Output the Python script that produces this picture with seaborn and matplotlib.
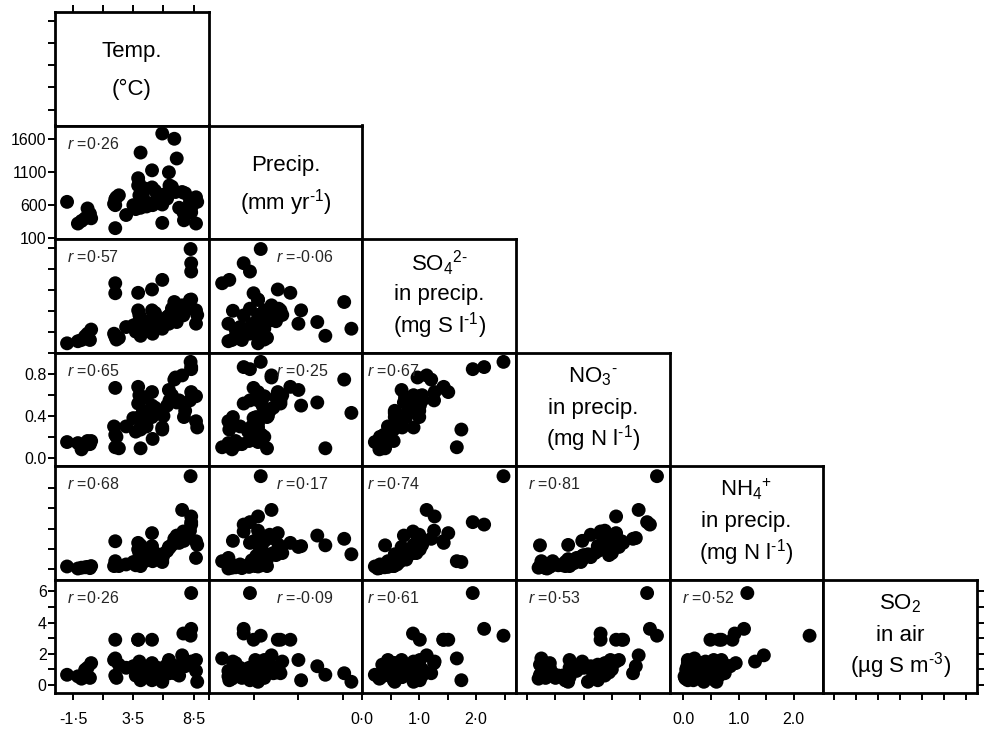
import matplotlib
matplotlib.use('Agg')
import matplotlib.pyplot as plt
import seaborn as sns
import pandas as pd

# one value per site
temp = [-2.0, -1.1, -0.8, -0.5, -0.3, 0.0, -0.1, 2.0, 2.0, 1.9, 2.1, 2.3, 2.9, 3.5,
        3.9, 3.9, 4.0, 4.1, 4.1, 4.3, 4.0, 4.6, 5.05, 5.05, 5.05, 5.1, 5.5, 5.9,
        5.9, 5.9, 6.45, 6.5, 6.9, 7.1, 7.0, 6.3, 7.55, 7.65, 7.7, 8.25, 8.3, 8.3,
        8.3, 8.7, 8.7, 8.8, 8.2, 4.2, 3.7, 5.3, 6.0, 6.7, 7.3, 2.0, 4.5, 7.8]
precip = [650, 320, 360, 400, 550, 400, 470, 250, 600, 620, 720, 750, 450, 600,
          1010, 900, 750, 560, 1400, 720, 920, 580, 870, 1130, 630, 600, 760, 1690,
          330, 610, 1100, 900, 1610, 1310, 800, 700, 800, 490, 370, 680, 490, 560,
          650, 720, 320, 650, 650, 650, 540, 820, 760, 880, 560, 690, 850, 780]
so4 = [0.22, 0.27, 0.30, 0.39, 0.45, 0.55, 0.30, 1.66, 1.42, 0.45, 0.31, 0.35, 0.61, 0.65,
       1.43, 1.01, 0.77, 0.55, 0.40, 0.57, 0.90, 0.68, 1.51, 1.01, 0.57, 0.45, 0.80, 0.57,
       1.74, 0.70, 0.69, 0.90, 1.21, 0.73, 0.97, 0.85, 1.13, 0.89, 1.00, 2.48, 2.14, 1.94,
       1.27, 1.01, 0.69, 0.90, 1.26, 0.60, 0.50, 0.95, 0.75, 1.05, 1.05, 0.38, 0.75, 1.00]
no3 = [0.15, 0.14, 0.08, 0.12, 0.16, 0.16, 0.13, 0.10, 0.67, 0.30, 0.20, 0.09, 0.30, 0.38,
       0.68, 0.52, 0.39, 0.27, 0.09, 0.45, 0.60, 0.30, 0.63, 0.50, 0.39, 0.18, 0.45, 0.43,
       0.27, 0.29, 0.65, 0.55, 0.75, 0.53, 0.77, 0.50, 0.79, 0.52, 0.39, 0.92, 0.87, 0.85,
       0.63, 0.59, 0.35, 0.29, 0.55, 0.33, 0.25, 0.48, 0.40, 0.60, 0.55, 0.22, 0.58, 0.45]
nh4 = [0.07, 0.02, 0.04, 0.05, 0.06, 0.08, 0.03, 0.20, 0.69, 0.08, 0.12, 0.08, 0.12, 0.18,
       0.65, 0.49, 0.24, 0.08, 0.59, 0.30, 0.40, 0.22, 0.89, 0.57, 0.33, 0.20, 0.33, 0.37,
       0.18, 0.25, 0.55, 0.53, 0.75, 0.83, 0.77, 0.45, 1.46, 0.93, 0.70, 2.29, 1.10, 1.16,
       1.30, 0.69, 0.28, 0.60, 0.95, 0.15, 0.10, 0.40, 0.35, 0.60, 0.65, 0.10, 0.35, 0.85]
so2 = [0.65, 0.55, 0.40, 0.97, 1.10, 1.40, 0.45, 1.70, 2.90, 1.60, 0.45, 1.30, 1.10, 1.20,
       2.90, 2.90, 1.30, 0.30, 0.65, 1.00, 1.50, 0.50, 2.90, 0.30, 1.40, 0.75, 1.10, 0.20,
       0.30, 0.50, 1.60, 0.75, 0.75, 1.20, 1.20, 1.30, 1.90, 3.30, 1.50, 3.16, 3.60, 5.90,
       1.50, 1.60, 0.90, 0.20, 1.40, 1.00, 0.60, 0.75, 1.10, 1.00, 0.60, 0.60, 0.80, 1.20]

variables = ['temp', 'precip', 'so4', 'no3', 'nh4', 'so2']

# diagonal labels, one entry per line (short hyphen in the exponents, as printed)
diag_labels = [
    ['Temp.', '(°C)'],
    ['Precip.', '(mm yr$^{‐1}$)'],
    ['SO$_4$$^{2‐}$', 'in precip.', '(mg S l$^{‐1}$)'],
    ['NO$_3$$^{‐}$', 'in precip.', '(mg N l$^{‐1}$)'],
    ['NH$_4$$^{+}$', 'in precip.', '(mg N l$^{‐1}$)'],
    ['SO$_2$', 'in air', '(µg S m$^{‐3}$)'],
]

# correlation labels for the lower triangle, row by row
r_values = {
    (1, 0): '0·26',
    (2, 0): '0·57', (2, 1): '-0·06',
    (3, 0): '0·65', (3, 1): '0·25', (3, 2): '0·67',
    (4, 0): '0·68', (4, 1): '0·17', (4, 2): '0·74', (4, 3): '0·81',
    (5, 0): '0·26', (5, 1): '-0·09', (5, 2): '0·61', (5, 3): '0·53', (5, 4): '0·52',
}

# axis ranges (horizontal, vertical) and ticks
xlims = {'temp': (-3.0, 9.75), 'precip': (100, 1812), 'so4': (0, 2.7),
         'no3': (-0.08, 1.01), 'nh4': (-0.25, 2.54), 'so2': (-0.5, 6.5)}
ylims = {'temp': (-3.3, 9.5), 'precip': (85, 1812), 'so4': (0, 2.72),
         'no3': (-0.08, 1.01), 'nh4': (-0.25, 2.54), 'so2': (-0.52, 6.77)}
ticks = {'temp': [-1.5, 1, 3.5, 6, 8.5],
         'precip': [100, 600, 1100, 1600],
         'so4': [0, 0.5, 1, 1.5, 2, 2.5],
         'no3': [0, 0.2, 0.4, 0.6, 0.8],
         'nh4': [0, 0.5, 1, 1.5, 2],
         'so2': [0, 1, 2, 3, 4, 5, 6]}
xticklabels = {'temp': ['-1·5', '', '3·5', '', '8·5'],
               'so4': ['0·0', '', '1·0', '', '2·0', ''],
               'nh4': ['0.0', '', '1.0', '', '2.0']}
yticklabels = {'precip': ['100', '600', '1100', '1600'],
               'no3': ['0.0', '', '0.4', '', '0.8'],
               'so2': ['0', '', '2', '', '4', '', '6']}

df = pd.DataFrame({'temp': temp, 'precip': precip, 'so4': so4,
                   'no3': no3, 'nh4': nh4, 'so2': so2})

sns.set_theme(style='ticks')
plt.rcParams['font.family'] = ['Liberation Sans', 'DejaVu Sans']
plt.rcParams['mathtext.fontset'] = 'custom'
plt.rcParams['mathtext.rm'] = 'Liberation Sans'
plt.rcParams['mathtext.it'] = 'Liberation Sans:italic'
plt.rcParams['mathtext.default'] = 'regular'

fig, axes = plt.subplots(6, 6, figsize=(9.84, 7.36), dpi=100)
fig.subplots_adjust(left=55 / 984, right=977 / 984, bottom=1 - 693 / 736,
                    top=1 - 12 / 736, wspace=0, hspace=0)

n = len(variables)
for i in range(n):
    for j in range(n):
        ax = axes[i, j]
        if j > i:
            ax.set_visible(False)
            continue
        vx, vy = variables[j], variables[i]
        ax.set_facecolor('white')
        for sp in ax.spines.values():
            sp.set_visible(True)
            sp.set_linewidth(2.0)
            sp.set_color('black')
        ax.tick_params(which='both', direction='out', length=5, width=1.4,
                       color='black', labelsize=11.5, labelcolor='black',
                       left=False, bottom=False, top=False, right=False,
                       labelleft=False, labelbottom=False)
        ax.tick_params(axis='y', pad=1)
        ax.tick_params(axis='x', pad=9)
        if i == j:
            lines = diag_labels[i]
            ys = [0.65, 0.32] if len(lines) == 2 else [0.79, 0.51, 0.24]
            for line, yy in zip(lines, ys):
                ax.text(0.5, yy, line, transform=ax.transAxes, ha='center',
                        va='center', fontsize=16, color='black')
        else:
            sns.scatterplot(data=df, x=vx, y=vy, ax=ax, color='black', s=100,
                            edgecolor='none', linewidth=0, legend=False)
            r_x = 0.44 if j == 1 else (0.03 if j == 2 else 0.08)
            ax.text(r_x, 0.84, r'$\mathit{r}$ =' + r_values[(i, j)],
                    transform=ax.transAxes, ha='left', va='center', fontsize=11.5)
        ax.set_xlim(xlims[vx])
        ax.set_ylim(ylims[vy])
        ax.set_xlabel('')
        ax.set_ylabel('')
        ax.set_xticks(ticks[vx])
        ax.set_yticks(ticks[vy])
        ax.set_xticklabels(xticklabels.get(vx, [''] * len(ticks[vx])))
        ax.set_yticklabels(yticklabels.get(vy, [''] * len(ticks[vy])))
        if j == 0:
            ax.tick_params(left=True, labelleft=True)
        if i == n - 1:
            ax.tick_params(bottom=True, labelbottom=True)
        if i == 0 and j == 0:
            ax.tick_params(top=True, labelleft=False)
        if i == n - 1 and j == n - 1:
            ax.tick_params(right=True)

fig.savefig('out.png', dpi=100, facecolor='white')
